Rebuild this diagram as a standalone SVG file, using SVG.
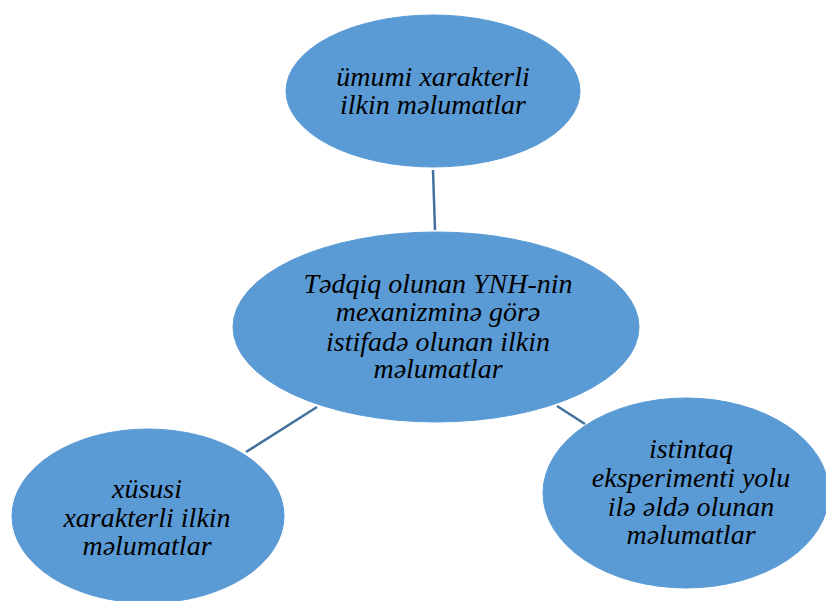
<svg xmlns="http://www.w3.org/2000/svg" width="826" height="601" viewBox="0 0 826 601">
<style>
.node{fill:#5b9bd5;stroke:#5b9bd5;stroke-width:1}
.lbl{font-family:"Liberation Serif","Times New Roman",serif;font-style:italic;font-size:28px;fill:#000;text-anchor:middle}
.edge{stroke:#41719c;stroke-width:2.5;fill:none}
</style>
<rect width="826" height="601" fill="#fff"/>
<g id="connectors">
<line class="edge" x1="433" y1="170" x2="435" y2="230"/>
<line class="edge" x1="246" y1="452" x2="317" y2="407"/>
<line class="edge" x1="557" y1="406" x2="585" y2="424"/>
</g>
<g id="n-top">
<ellipse class="node" cx="433" cy="91" rx="147" ry="76"/>
<text class="lbl" x="433" y="86">ümumi xarakterli</text>
<text class="lbl" x="433" y="114">ilkin məlumatlar</text>
</g>
<g id="n-center">
<ellipse class="node" cx="436" cy="327" rx="203" ry="95"/>
<text class="lbl" x="438" y="293">Tədqiq olunan YNH-nin</text>
<text class="lbl" x="438" y="321">mexanizminə görə</text>
<text class="lbl" x="438" y="351">istifadə olunan ilkin</text>
<text class="lbl" x="438" y="378">məlumatlar</text>
</g>
<g id="n-left">
<ellipse class="node" cx="148" cy="516" rx="136" ry="87"/>
<text class="lbl" x="147" y="498">xüsusi</text>
<text class="lbl" x="147" y="527">xarakterli ilkin</text>
<text class="lbl" x="147" y="555">məlumatlar</text>
</g>
<g id="n-right">
<ellipse class="node" cx="686" cy="493" rx="143" ry="95"/>
<text class="lbl" x="691" y="458">istintaq</text>
<text class="lbl" x="691" y="487">eksperimenti yolu</text>
<text class="lbl" x="691" y="516">ilə əldə olunan</text>
<text class="lbl" x="691" y="544">məlumatlar</text>
</g>
</svg>
